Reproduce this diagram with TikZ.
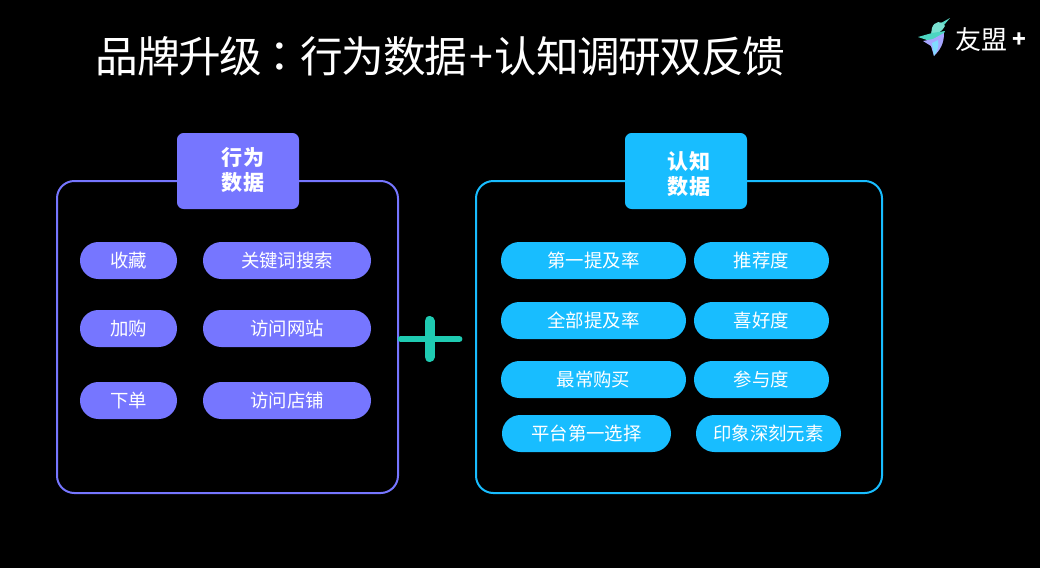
\documentclass[tikz,border=0pt]{standalone}
\usepackage{fontspec}
\setmainfont{Noto Sans CJK SC}
\newfontfamily\tcfont{Noto Sans CJK TC}
\definecolor{vio}{HTML}{7676FF}
\definecolor{sky}{HTML}{18BDFF}
\definecolor{mint}{HTML}{1FCBB2}
\tikzset{
  pillbox/.style={fill=#1,text=white,inner sep=0pt,minimum height=27.75pt,rounded corners=13.8pt,font=\fontsize{13.8pt}{16pt}\selectfont},
  framebox/.style={draw=#1,line width=1.5pt,rounded corners=13pt,inner sep=0pt,minimum height=234pt},
  headbox/.style={fill=#1,rounded corners=5pt,inner sep=0pt,minimum width=91.5pt,minimum height=57pt},
  headtext/.style={text=white,font=\bfseries\fontsize{15.8pt}{18.8pt}\selectfont,align=center,inner sep=0pt},
  plusbar/.style={line width=#1,mint,line cap=round}
}
\begin{document}
\begin{tikzpicture}[x=0.75pt,y=-0.75pt]
\useasboundingbox[fill=black] (0,0) rectangle (1040,568);
% title
\node[text=white,inner sep=0pt,anchor=west,font=\fontsize{32pt}{36pt}\selectfont\addfontfeature{LetterSpace=-3.4}] (title) at (95.5,56) {品牌升级\kern-3pt{\tcfont\addfontfeature{LetterSpace=-3.4}：}行为数据\kern1.6pt+\kern1.6pt认知调研双反馈};
% logo
\fill[mint!75!white] (950,18) -- (944,25) -- (941,23) -- cycle;
\fill[mint!60!white] (945,26) .. controls (942,20) and (934,21) .. (932,28) -- (931,34) .. controls (936,35) and (942,32) .. (945,26) -- cycle;
\fill[mint!80!white] (918,37) -- (932,33) -- (945,31) -- (940,42) -- (930,41) -- cycle;
\fill[vio!65!white] (923,41) -- (933,39) -- (944,33) .. controls (944,44) and (940,50) .. (934,56) -- (931,46) -- cycle;
\fill[sky!55!white] (934,56) -- (932,43) -- (938,40) .. controls (939,46) and (938,50) .. (934,56) -- cycle;
\node[text=white,inner sep=0pt,font=\fontsize{19.5pt}{22pt}\selectfont] (brand) at (981,40) {友盟};
\node[text=white,inner sep=0pt,font=\bfseries\fontsize{17pt}{20pt}\selectfont] (brandplus) at (1019,40) {+};
% frames
\node[framebox=vio,minimum width=255.75pt] (leftframe) at (227.5,337) {};
\node[framebox=sky,minimum width=304.5pt] (rightframe) at (679,337) {};
% headers
\node[headbox=vio] (lefthead) at (238,171) {};
\node[headtext] (lefthead-t) at (243,170.5) {行为\\数据};
\node[headbox=sky] (righthead) at (686,171) {};
\node[headtext] (righthead-t) at (689,174.5) {认知\\数据};
% left pills
\node[pillbox=vio,minimum width=72.75pt] (a1) at (128.5,260.5) {收藏};
\node[pillbox=vio,minimum width=126pt] (a2) at (287,260.5) {关键词搜索};
\node[pillbox=vio,minimum width=72.75pt] (b1) at (128.5,328.5) {加购};
\node[pillbox=vio,minimum width=126pt] (b2) at (287,328.5) {访问网站};
\node[pillbox=vio,minimum width=72.75pt] (c1) at (128.5,400.5) {下单};
\node[pillbox=vio,minimum width=126pt] (c2) at (287,400.5) {访问店铺};
% right pills
\node[pillbox=sky,minimum width=138.75pt] (d1) at (593.5,260.5) {第一提及率};
\node[pillbox=sky,minimum width=101.25pt] (d2) at (761.5,260.5) {推荐度};
\node[pillbox=sky,minimum width=138.75pt] (e1) at (593.5,320.5) {全部提及率};
\node[pillbox=sky,minimum width=101.25pt] (e2) at (761.5,320.5) {喜好度};
\node[pillbox=sky,minimum width=138.75pt] (f1) at (593.5,379.5) {最常购买};
\node[pillbox=sky,minimum width=101.25pt] (f2) at (761.5,379.5) {参与度};
\node[pillbox=sky,minimum width=126.75pt] (g1) at (586.5,433.5) {平台第一选择};
\node[pillbox=sky,minimum width=108.75pt] (g2) at (768.5,433.5) {印象深刻元素};
% plus sign
\draw[plusbar=5.2pt] (401,339) -- (459,339);
\draw[plusbar=7.5pt] (429.5,321) -- (429.5,357);
\end{tikzpicture}
\end{document}
